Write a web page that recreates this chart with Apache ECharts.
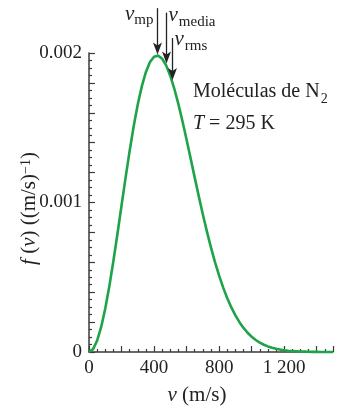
<!DOCTYPE html>
<html><head><meta charset="utf-8">
<script src="https://cdn.jsdelivr.net/npm/echarts@6/dist/echarts.min.js"></script>
<style>html,body{margin:0;padding:0;background:#fff}#c{width:345px;height:406px}</style>
</head><body><div id="c"></div>
<script>
// speed v (m/s)
const speeds = [0,25,50,75,100,125,150,175,200,225,250,275,300,325,350,375,400,425,450,475,500,525,550,575,600,625,650,675,700,725,750,775,800,825,850,875,900,925,950,975,1000,1025,1050,1075,1100,1125,1150,1175,1200,1225,1250,1275,1300,1325,1350,1375,1400,1425,1450,1475,1500];
// f(v) ((m/s)^-1)
const fv = [0,0.0000192,0.0000758,0.0001676,0.0002906,0.0004397,0.0006088,0.0007911,0.0009796,0.0011668,0.0013461,0.0015112,0.0016569,0.0017785,0.0018733,0.0019392,0.0019754,0.0019824,0.0019617,0.0019155,0.0018468,0.0017591,0.0016561,0.0015417,0.0014196,0.0012936,0.0011664,0.0010409,0.0009200,0.0008054,0.0006982,0.0005999,0.0005104,0.0004308,0.0003599,0.0002983,0.0002449,0.0001993,0.0001610,0.0001288,0.0001023,0.0000804,0.0000628,0.0000486,0.0000374,0.0000284,0.0000215,0.0000161,0.0000120,0.0000088,0.0000065,0.0000047,0.0000034,0.0000023,0.0000016,0.0000011,0.0000007,0.0000005,0.0000003,0.0000002,0.0000001];
// characteristic speeds
const speedNames = ['mp','media','rms'];
const speedValues = [419, 472, 513];
const arrowTips = [0.00199, 0.00193, 0.00182];
const arrowTops = [0.00230, 0.00227, 0.00210];
const xTickLabels = ['0','400','800','1 200'];
const yTickLabels = ['0','0.001','0.002'];

const FONT = 'Liberation Serif';
const TXT = '#222';
const chart = echarts.init(document.getElementById('c'));
const axisCol = '#3a3a3a';
chart.setOption({
  animation:false,
  grid:{left:89,right:12,top:53,bottom:54,containLabel:false,outerBoundsMode:'none'},
  xAxis:{type:'value',min:0,max:1500,interval:200,nameMoveOverlap:false,
    axisLine:{lineStyle:{color:axisCol,width:1.5}},
    axisTick:{inside:true,length:6,lineStyle:{color:axisCol,width:1.2}},
    minorTick:{show:true,splitNumber:4,length:3,lineStyle:{color:axisCol,width:1.2}},
    splitLine:{show:false},
    axisLabel:{margin:7,color:TXT,fontFamily:FONT,fontSize:19,showMaxLabel:true,
      formatter:function(v){const k=Math.round(v/400);return Math.abs(v-k*400)<1e-6?(xTickLabels[k]||''):'';}},
    name:'{i|v} (m/s)',nameLocation:'middle',nameGap:33,
    nameTextStyle:{color:TXT,fontFamily:FONT,fontSize:21,padding:[0,28,0,0],
      rich:{i:{fontStyle:'italic',fontFamily:FONT,fontSize:21,color:TXT}}}
  },
  yAxis:{type:'value',min:0,max:0.002,interval:0.0002,nameMoveOverlap:false,
    axisLine:{show:true,lineStyle:{color:axisCol,width:1.5}},
    axisTick:{show:true,inside:true,length:6,lineStyle:{color:axisCol,width:1.2}},
    minorTick:{show:true,splitNumber:4,length:3,lineStyle:{color:axisCol,width:1.2}},
    splitLine:{show:false},
    axisLabel:{margin:7,color:TXT,fontFamily:FONT,fontSize:19,
      formatter:function(v){const k=Math.round(v/0.001);return Math.abs(v/0.001-k)<1e-6?(yTickLabels[k]||''):'';}},
    name:'{i|f} ({i|v}) ((m/s){s|−1})',nameLocation:'middle',nameGap:49,nameRotate:90,
    nameTextStyle:{color:TXT,fontFamily:FONT,fontSize:21,padding:[0,12,0,0],
      rich:{i:{fontStyle:'italic',fontFamily:FONT,fontSize:21,color:TXT},
            s:{fontFamily:FONT,fontSize:14,color:TXT,verticalAlign:'top',padding:[0,0,7,0]}}}
  },
  series:[{type:'line',data:speeds.map((s,i)=>[s,fv[i]]),smooth:false,showSymbol:false,
    lineStyle:{color:'#1ea34a',width:2.6,join:'round'},clip:false}]
});

const ctx = document.createElement('canvas').getContext('2d');
function tw(text, font){ctx.font=font;return ctx.measureText(text).width;}
const vFont = 'italic 21px "Liberation Serif"';
const sFont = '15px "Liberation Serif"';

const g = [];
const tipsPx = [];
speedValues.forEach((v,i)=>{
  const tip = chart.convertToPixel({xAxisIndex:0,yAxisIndex:0},[v,arrowTips[i]]);
  const top = chart.convertToPixel({xAxisIndex:0,yAxisIndex:0},[v,arrowTops[i]]);
  const x = Math.round(tip[0])+0.5;
  tipsPx.push([x,top[1]]);
  g.push({type:'line',shape:{x1:x,y1:top[1],x2:x,y2:tip[1]-6},style:{stroke:'#222',lineWidth:1.3},z:10});
  g.push({type:'polygon',shape:{points:[[x,tip[1]],[x-4.5,tip[1]-12],[x,tip[1]-9],[x+4.5,tip[1]-12]]},style:{fill:'#222'},z:10});
});
function txt(t,x,y,font,align){g.push({type:'text',z:11,style:{text:t,x:x,y:y,textAlign:align||'left',textVerticalAlign:'bottom',font:font,fill:TXT}});}
// v_mp (left of arrow)
{
  const xr = tipsPx[0][0]-4;
  const ws = tw(speedNames[0],sFont);
  txt(speedNames[0], xr, 28, sFont, 'right');
  txt('v', xr-ws, 25, vFont, 'right');
}
// v_media (right of arrow)
{
  const xl = tipsPx[1][0]+2;
  const wv = tw('v',vFont);
  txt('v', xl, 26, vFont);
  txt(speedNames[1], xl+wv+1, 30, sFont);
}
// v_rms
{
  const xl = tipsPx[2][0]+2;
  const wv = tw('v',vFont);
  txt('v', xl, 50, vFont);
  txt(speedNames[2], xl+wv+1, 54, sFont);
}
// annotation
const aFont = '20px "Liberation Serif"';
const main = 'Moléculas de N';
txt(main, 193, 102, aFont);
txt('2', 193+tw(main,aFont)+1, 106, '14px "Liberation Serif"');
g.push({type:'text',z:11,style:{text:'{i|T} = 295 K',x:193,y:134,textAlign:'left',textVerticalAlign:'bottom',font:aFont,fill:TXT,
  rich:{i:{fontStyle:'italic',fontFamily:FONT,fontSize:20,fill:TXT}}}});
chart.setOption({graphic:g});
</script></body></html>
